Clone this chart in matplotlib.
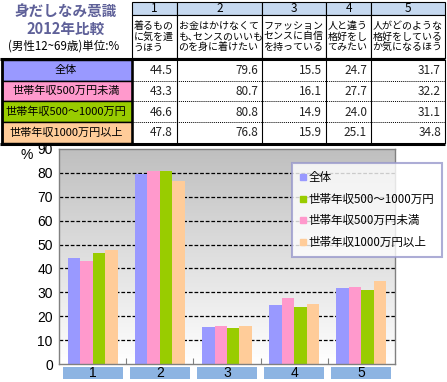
import numpy as np
import matplotlib
matplotlib.use("Agg")
import matplotlib.pyplot as plt
from matplotlib.patches import Rectangle
from matplotlib.lines import Line2D
import matplotlib.transforms as mtransforms

plt.rcParams['font.family'] = ['Noto Sans CJK JP', 'DejaVu Sans']

# data
categories = ['1', '2', '3', '4', '5']
questions = [
    '着るもの\nに気を遣\nうほう',
    'お金はかけなくて\nも､センスのいいも\nのを身に着けたい',
    'ファッション\nセンスに自信\nを持っている',
    '人と違う\n格好をし\nてみたい',
    '人がどのような\n格好をしている\nか気になるほう',
]
groups = ['全体', '世帯年収500万円未満', '世帯年収500～1000万円', '世帯年収1000万円以上']
vals_all = [44.5, 79.6, 15.5, 24.7, 31.7]
vals_low = [43.3, 80.7, 16.1, 27.7, 32.2]
vals_mid = [46.6, 80.8, 14.9, 24.0, 31.1]
vals_high = [47.8, 76.8, 15.9, 25.1, 34.8]
table_vals = [vals_all, vals_low, vals_mid, vals_high]
colors = ['#9999ff', '#ff99cc', '#99cc00', '#ffcc99']
yticks = [0, 10, 20, 30, 40, 50, 60, 70, 80, 90]

W, H = 447, 382
fig = plt.figure(figsize=(W / 100, H / 100), dpi=100)

# overlay in pixel coordinates for the table
ov = fig.add_axes([0, 0, 1, 1], zorder=0)
ov.set_xlim(0, W)
ov.set_ylim(H, 0)
ov.axis('off')

title_c = '#5f6199'
ov.text(66, 12, '身だしなみ意識', ha='center', va='center', fontsize=10.5,
        fontweight='bold', color=title_c)
ov.text(66, 29, '2012年比較', ha='center', va='center', fontsize=10.5,
        fontweight='bold', color=title_c)
ov.text(64, 46, '(男性12~69歳)単位:%', ha='center', va='center', fontsize=8.3)

col_x = [132, 177, 262, 326, 371, 445]
row_y = [60, 81, 101, 122, 143]

# header
for i in range(5):
    x0, x1 = col_x[i], col_x[i + 1]
    ov.add_patch(Rectangle((x0, 2), x1 - x0, 13, facecolor='#c6d9f0',
                           edgecolor='black', lw=0.8))
    ov.text((x0 + x1) / 2, 8.5, categories[i], ha='center', va='center', fontsize=8.5)
    ov.add_patch(Rectangle((x0, 15), x1 - x0, 43, facecolor='white',
                           edgecolor='black', lw=0.8))
    ov.text(x0 + 1.5, 36.5, questions[i], ha='left', va='center', fontsize=7.2,
            linespacing=1.1)

ov.plot([0, 445], [59, 59], color='black', lw=2.2, solid_capstyle='butt')

# rows
for r in range(4):
    y0, y1 = row_y[r], row_y[r + 1]
    ov.add_patch(Rectangle((1.5, y0), 130.5, y1 - y0, facecolor=colors[r],
                           edgecolor='black', lw=1.0))
    ov.text(66, (y0 + y1) / 2, groups[r], ha='center', va='center', fontsize=8)
    for i in range(5):
        ov.text(col_x[i + 1] - 4, (y0 + y1) / 2 + 0.5, '%.1f' % table_vals[r][i],
                ha='right', va='center', fontsize=8.5, color='#222222')
    if r > 0:
        ov.plot([132, 445], [y0, y0], color='black', lw=0.7, ls=(0, (1, 1)))
for x in col_x[1:]:
    ov.plot([x, x], [60, 143], color='black', lw=0.8)
ov.plot([1.5, 1.5], [59, 144], color='black', lw=2)
ov.plot([132, 132], [59, 144], color='black', lw=1.8)
ov.plot([0, 445], [144, 144], color='black', lw=2.2, solid_capstyle='butt')

# chart
ax_l, ax_r, ax_t, ax_b = 59, 395, 149, 364
ax = fig.add_axes([ax_l / W, 1 - ax_b / H, (ax_r - ax_l) / W, (ax_b - ax_t) / H], zorder=1)
ax.set_xlim(0.5, 5.5)
ax.set_ylim(0, 90)
grad = np.linspace(0, 1, 256).reshape(-1, 1)
ax.imshow(grad, cmap=matplotlib.colors.LinearSegmentedColormap.from_list(
    'g', ['#ffffff', '#bfbfbf']), origin='lower', aspect='auto',
    extent=[0.5, 5.5, 0, 90], zorder=0)

for yv in yticks[1:-1]:
    ax.axhline(yv, color='black', lw=0.9, ls=(0, (3, 1.5)), zorder=1)

x = np.arange(1, 6)
w = 0.186
series = [vals_all, vals_low, vals_mid, vals_high]
for k, (vals, c) in enumerate(zip(series, colors)):
    ax.bar(x + (k - 1.5) * w, vals, width=w, color=c, zorder=2, lw=0)

ax.set_yticks(yticks)
ax.set_yticklabels([str(v) for v in yticks], fontsize=10, family='Liberation Sans')
ax.tick_params(axis='y', length=0, pad=4.5)
ax.set_xticks([1.5, 2.5, 3.5, 4.5])
ax.set_xticklabels([])
ax.tick_params(axis='x', direction='in', length=4, color='#808080')
for s in ax.spines.values():
    s.set_color('#808080')
    s.set_linewidth(1)
ax.text(27 / W, 1 - 155 / H, '%', transform=fig.transFigure, ha='center', va='center',
        fontsize=10, family='Liberation Sans')

# category label boxes under the axis
trans = mtransforms.blended_transform_factory(ax.transData, fig.transFigure)
for xi, lab in zip(x, categories):
    ax.add_patch(Rectangle((xi - 0.445, 1 - 379 / H), 0.89, 12 / H, transform=trans,
                           facecolor='#8db4e2', edgecolor='none', clip_on=False))
    ax.text(xi, 1 - 373 / H, lab, transform=trans, ha='center', va='center',
            fontsize=10, family='Liberation Sans')

# legend (order as in the original)
leg_order = [0, 2, 1, 3]
handles = [Line2D([], [], marker='s', ls='none', markersize=5, color=colors[i])
           for i in leg_order]
labels = [groups[i] for i in leg_order]
leg = ax.legend(handles, labels, loc='upper left', bbox_to_anchor=(292 / W, 1 - 163 / H),
                bbox_transform=fig.transFigure, borderaxespad=0, frameon=True,
                fancybox=False, fontsize=8.3, handlelength=0.5, handletextpad=0.2,
                labelspacing=0.75, borderpad=0.7)
leg.get_frame().set_edgecolor('#9999cc')
leg.get_frame().set_linewidth(1.5)

fig.savefig('out.png', dpi=100)
